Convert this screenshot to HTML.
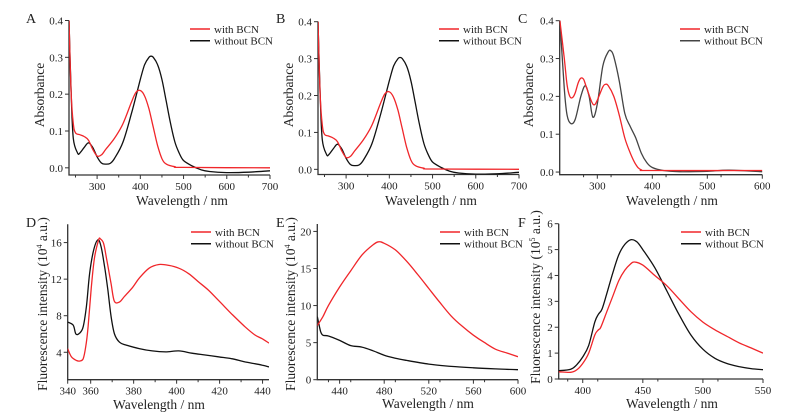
<!DOCTYPE html>
<html><head><meta charset="utf-8"><style>
html,body{margin:0;padding:0;background:#fff}
svg{display:block;font-family:"Liberation Serif",serif}
</style></head><body>
<svg id="fig" width="792" height="417" viewBox="0 0 792 417" xmlns="http://www.w3.org/2000/svg"></svg>
<script>
// ---- data ----
const aRed = [[235,0.4],[240,0.2],[245,0.12],[250,0.095],[260,0.09],[270,0.085],[280,0.075],[290,0.05],[300,0.032],[310,0.035],[320,0.05],[340,0.08],[360,0.12],[380,0.18],[390,0.205],[400,0.21],[410,0.195],[420,0.16],[430,0.11],[440,0.06],[450,0.025],[460,0.01],[480,0.003],[500,0.001],[700,0.0]];
const aBlack = [[235,0.4],[240,0.2],[245,0.08],[255,0.04],[260,0.04],[270,0.055],[280,0.068],[290,0.055],[300,0.03],[310,0.013],[320,0.01],[330,0.012],[340,0.025],[360,0.07],[380,0.15],[400,0.24],[410,0.28],[420,0.3],[425,0.303],[430,0.3],[440,0.28],[450,0.24],[460,0.18],[470,0.12],[480,0.07],[490,0.04],[500,0.02],[520,0.005],[540,-0.005],[560,-0.01],[600,-0.013],[650,-0.012],[700,-0.008]];
const bRed = [[235,0.4],[240,0.2],[245,0.12],[250,0.095],[260,0.09],[270,0.085],[280,0.075],[290,0.05],[300,0.032],[310,0.035],[320,0.05],[340,0.08],[360,0.12],[380,0.18],[390,0.205],[400,0.21],[410,0.195],[420,0.16],[430,0.11],[440,0.06],[450,0.025],[460,0.01],[480,0.003],[500,0.001],[700,0.0]];
const bBlack = [[235,0.4],[240,0.2],[245,0.08],[255,0.04],[260,0.04],[270,0.055],[280,0.068],[290,0.055],[300,0.03],[310,0.013],[320,0.01],[330,0.012],[340,0.025],[360,0.07],[380,0.15],[400,0.24],[410,0.28],[420,0.3],[425,0.303],[430,0.3],[440,0.28],[450,0.24],[460,0.18],[470,0.12],[480,0.07],[490,0.04],[500,0.02],[520,0.005],[540,-0.005],[560,-0.01],[600,-0.013],[650,-0.012],[700,-0.008]];
const cRed = [[232,0.4],[240,0.3],[245,0.23],[250,0.2],[255,0.197],[260,0.21],[265,0.235],[270,0.248],[275,0.245],[280,0.225],[290,0.185],[295,0.178],[300,0.19],[310,0.225],[315,0.232],[320,0.228],[330,0.2],[340,0.15],[350,0.09],[360,0.05],[370,0.02],[380,0.006],[400,0.004],[600,0.004]];
const cBlack = [[232,0.4],[240,0.22],[245,0.15],[252,0.128],[260,0.14],[270,0.2],[278,0.228],[285,0.2],[292,0.145],[300,0.18],[310,0.28],[320,0.318],[325,0.32],[330,0.305],[340,0.24],[350,0.155],[360,0.12],[370,0.09],[380,0.05],[390,0.025],[400,0.012],[420,0.004],[450,0.001],[500,0.002],[540,0.005],[600,0.001]];
const dRed = [[349.3,4.4],[351,3.5],[353.4,3.1],[355,3.05],[356.5,3.3],[357.7,4.6],[358.8,6.8],[360.3,11.1],[361.8,14.4],[363.7,16.3],[364.5,16.4],[366,15.9],[367.5,14.1],[369.5,11.5],[371,9.6],[373.4,9.5],[375.7,10.1],[379.5,11.1],[382.6,12.1],[387.2,13.2],[391.8,13.6],[396.4,13.5],[401,13.2],[405.6,12.6],[410.2,11.7],[414.8,10.8],[419.4,9.7],[425.6,8.2],[431.8,6.8],[436.4,5.9],[439.7,5.5],[443,5.0]];
const dBlack = [[349.3,7.3],[351.9,6.95],[353.1,6.0],[354.9,6.1],[356.5,6.8],[358,9.0],[359.5,12.6],[361.4,15.2],[363.4,16.3],[364.9,15.5],[366.5,13.3],[368,10.8],[369.5,7.9],[371.1,6.0],[373.4,5.1],[376.4,4.8],[382.6,4.4],[388.7,4.15],[394.9,4.04],[401,4.15],[407.1,3.9],[413.3,3.7],[419.4,3.5],[425.6,3.3],[431.8,2.95],[439.7,2.6],[443,2.4]];
const eRed = [[420,7.3],[425,8.5],[430,10],[440,12.5],[450,14.7],[460,16.8],[470,18.2],[475,18.6],[480,18.4],[490,17.5],[500,16],[510,14.2],[520,12.3],[530,10.4],[540,8.6],[550,7.2],[560,6],[570,5],[580,4.1],[590,3.6],[600,3.1]];
const eBlack = [[420,8.5],[421,7.8],[423,6.5],[425,6.0],[430,5.9],[440,5.3],[450,4.6],[460,4.4],[470,3.9],[480,3.3],[490,2.9],[500,2.6],[520,2.1],[540,1.8],[560,1.6],[580,1.45],[600,1.35]];
const fRed = [[380,0.28],[390,0.26],[395,0.35],[400,0.6],[405,1.0],[410,1.7],[413,1.9],[415,2.0],[420,2.6],[425,3.2],[430,3.8],[435,4.2],[440,4.45],[443,4.52],[450,4.4],[460,4.0],[470,3.6],[480,3.1],[490,2.6],[500,2.2],[510,1.9],[520,1.65],[530,1.4],[540,1.2],[550,1.0]];
const fBlack = [[380,0.32],[390,0.38],[395,0.55],[400,0.85],[405,1.3],[410,2.2],[413,2.5],[416,2.7],[420,3.3],[425,4.1],[430,4.8],[435,5.2],[440,5.38],[445,5.3],[450,5.0],[460,4.3],[470,3.4],[480,2.5],[490,1.7],[500,1.15],[510,0.8],[520,0.6],[530,0.48],[540,0.4],[550,0.36]];
const absXTicks = [300,400,500,600,700];
const cXTicks = [300,400,500,600];
const absYTicks = [0.0,0.1,0.2,0.3,0.4];
const dXTicks = [340,360,380,400,420,440];
const dYTicks = [4,8,12,16];
const eXTicks = [440,480,520,560,600];
const eYTicks = [0,5,10,15,20];
const fXTicks = [400,450,500,550];
const fYTicks = [0,1,2,3,4,5,6];

const svg = document.getElementById('fig');
const NS = 'http://www.w3.org/2000/svg';
function mk(tag, attrs, parent){const e=document.createElementNS(NS,tag);for(const k in attrs)e.setAttribute(k,attrs[k]);(parent||svg).appendChild(e);return e;}
function smooth(pts){
  let d='M'+pts[0][0].toFixed(1)+','+pts[0][1].toFixed(1);
  for(let i=0;i<pts.length-1;i++){
    const p0=pts[i-1]||pts[i],p1=pts[i],p2=pts[i+1],p3=pts[i+2]||p2;
    const c1=[p1[0]+(p2[0]-p0[0])/6,p1[1]+(p2[1]-p0[1])/6];
    const c2=[p2[0]-(p3[0]-p1[0])/6,p2[1]-(p3[1]-p1[1])/6];
    d+=`C${c1[0].toFixed(1)},${c1[1].toFixed(1)} ${c2[0].toFixed(1)},${c2[1].toFixed(1)} ${p2[0].toFixed(1)},${p2[1].toFixed(1)}`;
  }
  return d;
}

function panel(p){
  const g = mk('g',{});
  
  
  const X = v => p.l + (v - p.x0)/(p.x1 - p.x0)*(p.r - p.l);
  const Y = v => p.b - (v - p.y0)/(p.y1 - p.y0)*(p.b - p.t);
  const ax = mk('path',{d:`M${p.l},${p.t}V${p.b}H${p.r}`,stroke:'#333',fill:'none','stroke-width':1.3},g);
  
  
  p.xt.forEach((v,i)=>{
    const x = v < p.x0 ? p.l : X(v);
    mk('line',{x1:x,x2:x,y1:p.b,y2:p.b+4,stroke:'#333','stroke-width':1},g);
    if(i<p.xt.length-1 && v>=p.x0){const xm=X(v+p.xs/2); if(xm<=p.r) mk('line',{x1:xm,x2:xm,y1:p.b,y2:p.b+2.5,stroke:'#333','stroke-width':1},g);}
    const t = mk('text',{x:x,y:p.b+15,'text-anchor':'middle','font-size':11,fill:'#222'},g);
    t.textContent = p.fmt ? p.fmt(v) : v;
    
    
  });
  if(p.xt[0]-p.xs/2 > p.x0){const xm=X(p.xt[0]-p.xs/2); mk('line',{x1:xm,x2:xm,y1:p.b,y2:p.b+2.5,stroke:'#333','stroke-width':1},g);}
  p.yt.forEach((v,i)=>{
    const y = Y(v);
    mk('line',{x1:p.l-4,x2:p.l,y1:y,y2:y,stroke:'#333','stroke-width':1},g);
    const t = mk('text',{x:p.l-6,y:y+4,'text-anchor':'end','font-size':11,fill:'#222'},g);
    t.textContent = p.yfmt ? p.yfmt(v) : v;
    
    
  });
  const clip = mk('clipPath',{id:'c'+p.id},g);
  mk('rect',{x:p.l,y:p.t-1,width:p.r-p.l,height:p.b-p.t+1},clip);
  [[p.black,p.blackColor||'#111','series-without-bcn'],[p.red,'#f0262a','series-with-bcn']].forEach(([d,c,n])=>{
    const pl = mk('path',{d:smooth(d.map(q=>[X(q[0]),Y(q[1])])),fill:'none',stroke:c,'stroke-width':1.3,'stroke-linejoin':'round','clip-path':`url(#c${p.id})`},g);
    
    
  });
  [['with BCN','#f0262a',p.ly],['without BCN',p.blackColor||'#111',p.ly+11.7]].forEach(([s,c,y])=>{
    const le = mk('g',{},g);
    
    
    mk('line',{x1:p.lx,x2:p.lx+20,y1:y,y2:y,stroke:c,'stroke-width':1.5},le);
    const t = mk('text',{x:p.lx+24,y:y+4,'font-size':11,fill:'#222'},le);
    t.textContent = s;
  });
  const xt = mk('text',{x:p.xtx,y:p.xty,'text-anchor':'middle','font-size':13.5,fill:'#222'},g);
  xt.textContent = 'Wavelength / nm';
  
  
  const yt = mk('text',{x:0,y:0,'text-anchor':'middle','font-size':13.5,fill:'#222',transform:`translate(${p.ytx},${p.yty}) rotate(-90)`},g);
  yt.innerHTML = p.ytitle;
  
  
  const lt = mk('text',{x:p.px,y:p.py,'font-size':14,fill:'#222'},g);
  lt.textContent = p.id;
  
  
}
const f1 = v => v.toFixed(1);
const fl4 = 'Fluorescence intensity (10<tspan font-size="8" dy="-5">4</tspan><tspan dy="5"> a.u.)</tspan>';
const fl5 = 'Fluorescence intensity (10<tspan font-size="8" dy="-5">5</tspan><tspan dy="5"> a.u.)</tspan>';
panel({id:'A',l:69,r:270,t:20.5,b:175,x0:235,x1:700,y0:-0.0195,y1:0.4,xt:absXTicks,xs:100,yt:absYTicks,yfmt:f1,red:aRed,black:aBlack,lx:190,ly:29,xtx:182,xty:205,ytx:44,yty:95,ytitle:'Absorbance',px:26,py:23});
panel({id:'B',l:318,r:519,t:21.7,b:174.5,x0:235,x1:700,y0:-0.014,y1:0.4,xt:absXTicks,xs:100,yt:absYTicks,yfmt:f1,red:bRed,black:bBlack,lx:439,ly:29,xtx:431,xty:205,ytx:293,yty:95,ytitle:'Absorbance',px:276,py:23});
panel({id:'C',l:559.7,r:762.3,t:20.7,b:174.7,x0:231.6,x1:600,y0:-0.007,y1:0.4,xt:cXTicks,xs:50,yt:absYTicks,yfmt:f1,red:cRed,black:cBlack,blackColor:'#444',lx:680,ly:29,xtx:672,xty:205,ytx:533,yty:95,ytitle:'Absorbance',px:518,py:23});
panel({id:'D',l:67.7,r:269,t:224.3,b:379.7,x0:349.3,x1:443,y0:1.0,y1:18,xt:dXTicks,xs:20,yt:dYTicks,red:dRed,black:dBlack,lx:191,ly:232,xtx:159,xty:409,ytx:47,yty:304,ytitle:fl4,px:26,py:227});
panel({id:'E',l:317.3,r:518,t:224,b:379.7,x0:420,x1:600,y0:0,y1:21,xt:eXTicks,xs:20,yt:eYTicks,red:eRed,black:eBlack,lx:440,ly:232,xtx:428,xty:408,ytx:295,yty:304,ytitle:fl4,px:276,py:227});
panel({id:'F',l:558.7,r:763,t:223.7,b:379,x0:380,x1:550,y0:0,y1:6,xt:fXTicks,xs:25,yt:fYTicks,red:fRed,black:fBlack,lx:681,ly:232,xtx:672,xty:408,ytx:540,yty:297,ytitle:fl5,px:518,py:227});
</script>
</body></html>
